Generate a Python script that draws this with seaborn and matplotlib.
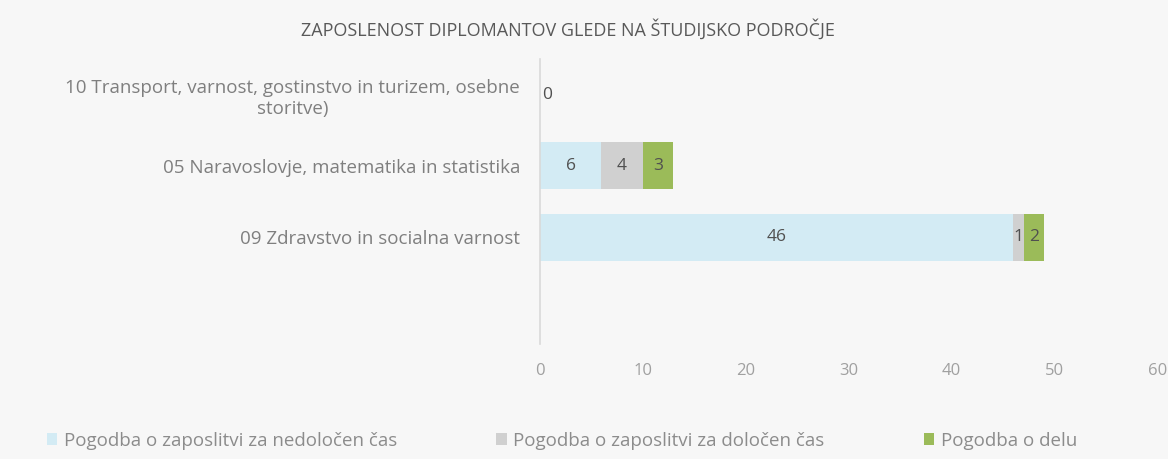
import numpy as np
import pandas as pd
import matplotlib
matplotlib.use("Agg")
import matplotlib.pyplot as plt
import seaborn as sns
from matplotlib.patches import Patch

# data
categories = ["10 Transport, varnost, gostinstvo in turizem, osebne\nstoritve)",
              "05 Naravoslovje, matematika in statistika",
              "09 Zdravstvo in socialna varnost"]
nedolocen = [0, 6, 46]
dolocen = [0, 4, 1]
delo = [0, 3, 2]
series_names = ["Pogodba o zaposlitvi za nedoločen čas",
                "Pogodba o zaposlitvi za določen čas",
                "Pogodba o delu"]
colors = ["#d3ebf4", "#d0d0d0", "#9bbb59"]
x_ticks = [0, 10, 20, 30, 40, 50, 60]

sns.set_style("white")
plt.rcParams['font.family'] = ['Open Sans', 'DejaVu Sans']

bg = "#f7f7f7"
df = pd.DataFrame({"cat": categories, "a": nedolocen, "b": dolocen, "c": delo})
df["cum_a"] = df["a"]
df["cum_b"] = df["a"] + df["b"]
df["cum_c"] = df["a"] + df["b"] + df["c"]

fig = plt.figure(figsize=(11.68, 4.59), dpi=100, facecolor=bg)
ax = fig.add_axes([0.462, 0.251, 0.529, 0.62])
ax.set_facecolor(bg)

# stacked bars: draw totals first, then overlay shorter cumulative sums
for col, c in zip(["cum_c", "cum_b", "cum_a"], colors[::-1]):
    sns.barplot(data=df, x=col, y="cat", color=c, ax=ax, orient="h",
                width=0.66, saturation=1, order=categories,
                linewidth=0, edgecolor="none")

ax.set_ylim(3.5, -0.5)
ax.set_xlim(0, 60)
ax.set_xticks(x_ticks)
ax.set_xlabel("")
ax.set_ylabel("")
ax.tick_params(axis="x", colors="#a0a0a0", labelsize=12, length=0, pad=14)
ax.tick_params(axis="y", colors="#7f7f7f", labelsize=13.5, length=0, pad=14)
for lbl in ax.get_yticklabels():
    lbl.set_multialignment("center")

for s in ["top", "right", "bottom"]:
    ax.spines[s].set_visible(False)
ax.spines["left"].set_color("#d9d9d9")
ax.spines["left"].set_linewidth(1.2)

# segment labels
for i, row in df.iterrows():
    if row["cum_c"] == 0:
        ax.text(0.2, i, "0", ha="left", va="center", fontsize=12.5, color="#505050")
        continue
    starts = [0, row["cum_a"], row["cum_b"]]
    vals = [row["a"], row["b"], row["c"]]
    for s0, v in zip(starts, vals):
        if v > 0:
            ax.text(s0 + v / 2, i, f"{v}", ha="center", va="center",
                    fontsize=12.5, color="#505050")

fig.text(0.486, 0.935, "ZAPOSLENOST DIPLOMANTOV GLEDE NA ŠTUDIJSKO PODROČJE",
         ha="center", va="center", fontsize=13, color="#595959")

handles = [Patch(facecolor=c, edgecolor="none") for c in colors]
fig.legend(handles, series_names, loc="center", bbox_to_anchor=(0.481, 0.04),
           ncol=3, frameon=False, fontsize=13.5, handlelength=0.55, handleheight=0.55,
           columnspacing=5.3, handletextpad=0.35, labelcolor="#8c8c8c")

fig.savefig("out.png", dpi=100, facecolor=bg)
